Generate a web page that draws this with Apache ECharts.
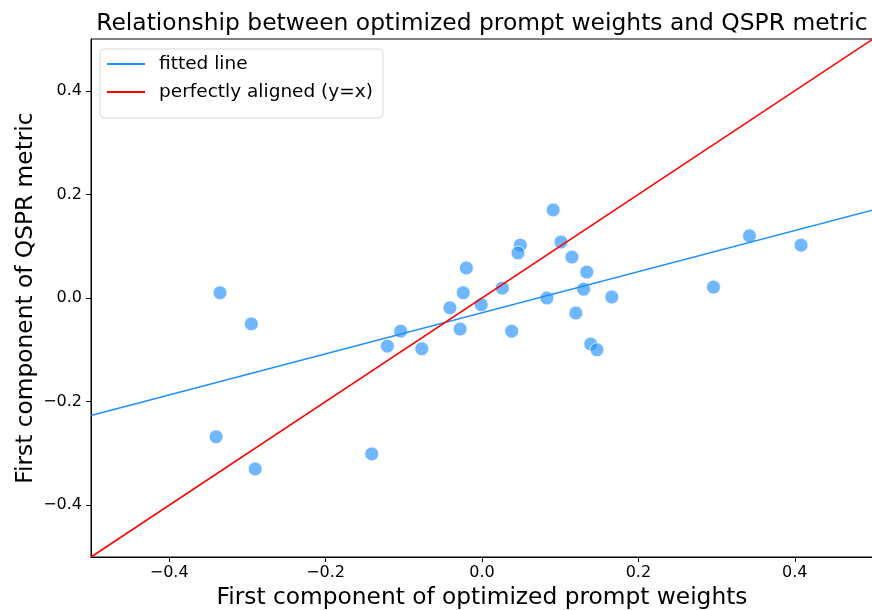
<!DOCTYPE html>
<html>
<head>
<meta charset="utf-8">
<script src="https://cdn.jsdelivr.net/npm/echarts@6/dist/echarts.min.js"></script>
<style>
  html, body { margin: 0; padding: 0; background: #fff; }
  #chart { width: 872px; height: 610px; }
</style>
</head>
<body>
<div id="chart"></div>
<script>
// First component of optimized prompt weights (x) vs. first component of QSPR metric (y)
const weightComponent = [
  -0.335, -0.295, -0.340, -0.290, -0.141, -0.121, -0.104, -0.077, -0.041, -0.028,
  -0.024, -0.020, -0.001, 0.026, 0.038, 0.049, 0.046, 0.083, 0.091, 0.101,
  0.115, 0.120, 0.134, 0.130, 0.166, 0.139, 0.147, 0.296, 0.342, 0.408
];
const qsprComponent = [
  0.010, -0.050, -0.268, -0.330, -0.301, -0.093, -0.064, -0.098, -0.019, -0.060,
  0.010, 0.058, -0.013, 0.019, -0.064, 0.102, 0.087, 0.000, 0.170, 0.108,
  0.079, -0.029, 0.050, 0.017, 0.002, -0.089, -0.100, 0.021, 0.120, 0.102
];

// Endpoints of the regression line and the identity line across the axis range
const fittedX = [-0.5, 0.5];
const fittedY = [-0.227, 0.170];
const identityX = [-0.5, 0.5];
const identityY = [-0.5, 0.5];

const tickValues = [-0.4, -0.2, 0.0, 0.2, 0.4];

const FONT = 'DejaVu Sans';
const fmt = v => v.toFixed(1).replace('-', '\u2212');

const points = weightComponent.map((x, i) => [x, qsprComponent[i]]);
const fittedLine = fittedX.map((x, i) => [x, fittedY[i]]);
const identityLine = identityX.map((x, i) => [x, identityY[i]]);

const chart = echarts.init(document.getElementById('chart'), null, { renderer: 'canvas' });

const axisCommon = {
  type: 'value',
  min: -0.5,
  max: 0.5,
  splitLine: { show: false },
  axisLine: { show: true, onZero: false, lineStyle: { color: '#000', width: 1 } },
  axisTick: { show: true, inside: false, length: 5, customValues: tickValues, lineStyle: { color: '#000', width: 1 } },
  nameLocation: 'middle',
  nameMoveOverlap: false,
  nameTextStyle: { fontFamily: FONT, fontSize: 23.3, color: '#000' }
};

chart.setOption({
  animation: false,
  backgroundColor: '#fff',
  title: {
    text: 'Relationship between optimized prompt weights and QSPR metric',
    left: 482,
    textAlign: 'center',
    top: 12,
    padding: 0,
    textStyle: { fontFamily: FONT, fontSize: 23.4, fontWeight: 'normal', color: '#000' }
  },
  grid: {
    left: 91, top: 39, width: 782, height: 518,
    outerBoundsMode: 'none',
    containLabel: false,
    show: true, borderColor: '#000', borderWidth: 1, backgroundColor: 'transparent'
  },
  legend: {
    orient: 'vertical',
    left: 100,
    top: 49,
    data: ['fitted line', 'perfectly aligned (y=x)'],
    icon: 'rect',
    itemWidth: 38,
    itemHeight: 2,
    itemGap: 8,
    padding: [5, 10, 16, 7],
    backgroundColor: '#fff',
    borderColor: '#d9d9d9',
    borderWidth: 1,
    borderRadius: 4,
    textStyle: { fontFamily: FONT, fontSize: 18.5, color: '#000', lineHeight: 20, padding: [0, 0, 0, 9] }
  },
  xAxis: Object.assign({}, axisCommon, {
    name: 'First component of optimized prompt weights',
    nameGap: 29,
    axisLabel: { customValues: tickValues, formatter: fmt, margin: 8, fontFamily: FONT, fontSize: 16, color: '#000' }
  }),
  yAxis: Object.assign({}, axisCommon, {
    name: 'First component of QSPR metric',
    nameGap: 54,
    axisLabel: { customValues: tickValues, formatter: fmt, margin: 9, fontFamily: FONT, fontSize: 16, color: '#000' }
  }),
  series: [
    {
      type: 'scatter',
      data: points,
      symbolSize: 14,
      itemStyle: { color: 'rgba(30,144,255,0.8)', borderColor: '#fff', borderWidth: 1 },
      z: 2
    },
    {
      name: 'fitted line',
      type: 'line',
      data: fittedLine,
      showSymbol: false,
      symbol: 'none',
      lineStyle: { color: '#1e90ff', width: 1.5 },
      itemStyle: { color: '#1e90ff' },
      z: 3
    },
    {
      name: 'perfectly aligned (y=x)',
      type: 'line',
      data: identityLine,
      showSymbol: false,
      symbol: 'none',
      lineStyle: { color: '#ff0000', width: 1.5 },
      itemStyle: { color: '#ff0000' },
      z: 3
    }
  ]
});
</script>
</body>
</html>
